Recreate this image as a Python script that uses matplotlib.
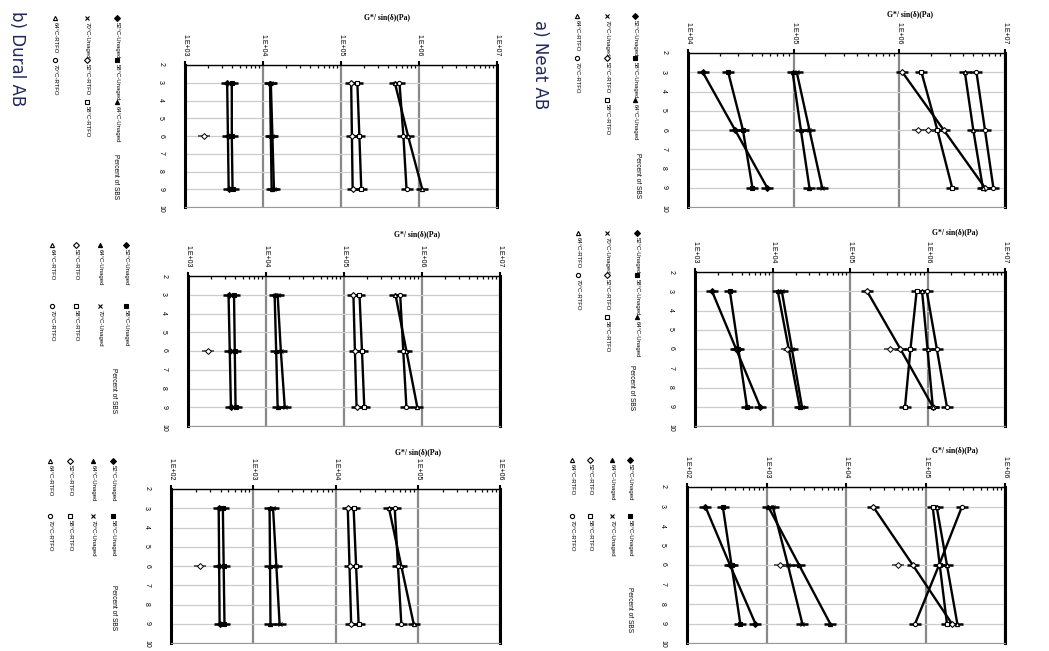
import matplotlib
matplotlib.use('Agg')
import matplotlib.pyplot as plt
import numpy as np
from matplotlib.lines import Line2D
from matplotlib.ticker import FuncFormatter, LogLocator, NullFormatter

plt.rcParams['font.family'] = ['Liberation Sans', 'DejaVu Sans']

# percent of SBS at which each binder was tested
percent = [3, 6, 9]

labels = ['52°C-Unaged', '58°C-Unaged', '64°C-Unaged', '70°C-Unaged',
          '52°C-RTFO', '58°C-RTFO', '64°C-RTFO', '70°C-RTFO']
markers = ['D', 's', '^', 'x', 'D', 's', '^', 'o']
filled = [True, True, True, True, False, False, False, False]

# G*/sin(delta) in Pa, one row per series (3 %, 6 %, 9 % SBS)
neat_1 = [[13800, 27900, 56200], [24000, 33100, 40700],
          [97700, 117000, 141000], [107000, 141000, 186000],
          [1.07e6, 2.63e6, 6.46e6], [1.62e6, 2.29e6, 3.16e6],
          [4.17e6, 5.01e6, 6.17e6], [5.37e6, 6.46e6, 7.76e6]]
neat_2 = [[1660, 3390, 6920], [2820, 3630, 4680],
          [11700, 16200, 22400], [13200, 17800, 24000],
          [166000, 447000, 1.17e6], [724000, 603000, 513000],
          [851000, 1.0e6, 1.17e6], [977000, 1.32e6, 1.78e6]]
neat_3 = [[170, 347, 724], [282, 363, 468],
          [1050, 2570, 6310], [1200, 1860, 2820],
          [21900, 69200, 214000], [123000, 151000, 186000],
          [138000, 186000, 251000], [288000, 148000, 74100]]
dural_1 = [[3470, 3550, 3630], [3980, 3980, 4070],
           [12300, 12600, 12900], [12600, 13200, 13800],
           [135000, 138000, 141000], [162000, 172000, 182000],
           [490000, 724000, 1.10e6], [562000, 631000, 692000]]
dural_2 = [[3310, 3430, 3550], [3890, 3980, 4070],
           [12900, 13500, 14100], [14100, 15500, 17400],
           [132000, 138000, 145000], [158000, 170000, 182000],
           [457000, 631000, 871000], [525000, 575000, 631000]]
dural_3 = [[380, 385, 390], [427, 437, 447],
           [1580, 1600, 1620], [1740, 1910, 2090],
           [14100, 14800, 15500], [16600, 17800, 19100],
           [44700, 63100, 89100], [52500, 57500, 63100]]

# single repeat readings at 6 % SBS
neat_1_rep = [1.51e6, 1.86e6]
neat_2_rep = [15500, 331000]
neat_3_rep = [1480, 44700]
dural_1_rep = [1740]
dural_2_rep = [1780]
dural_3_rep = [224]

W, H = 1049, 651
fig = plt.figure(figsize=(W / 100, H / 100), dpi=100)


def fx(x):
    return x / W


def fy(y):
    return 1 - y / H


def panel(box, lo, hi, series, rep, glab, plab, cols, counts, ly0, lstep):
    x0, y0, x1, y1 = box
    ax = fig.add_axes([fx(x0), fy(y1), (x1 - x0) / W, (y1 - y0) / H])
    ax.set_xscale('log')
    ax.set_xlim(10.0 ** lo, 10.0 ** hi)
    ax.set_ylim(10, 2)
    ax.set_yticks(range(2, 11))
    ax.set_xticks([10.0 ** k for k in range(lo, hi + 1)])
    ax.xaxis.set_major_formatter(FuncFormatter(lambda v, p: '1.E+%02d' % round(np.log10(v))))
    ax.xaxis.set_minor_locator(LogLocator(base=10, subs=np.arange(2, 10)))
    ax.xaxis.set_minor_formatter(NullFormatter())
    ax.xaxis.tick_top()
    ax.tick_params(axis='x', which='major', labelsize=5, labelrotation=-90,
                   length=3, width=1.5, pad=3)
    ax.tick_params(axis='x', which='minor', length=2.5, width=0.9, direction='in')
    ax.tick_params(axis='y', labelsize=5, labelrotation=-90, length=0, pad=15)
    ax.grid(axis='x', which='major', color='#888888', lw=1.6)
    ax.grid(axis='y', color='#cccccc', lw=0.9)
    ax.set_axisbelow(True)
    for s in ['left', 'right']:
        ax.spines[s].set_linewidth(2.2)
    ax.spines['top'].set_linewidth(1.0)
    ax.spines['bottom'].set_color('#999999')
    ax.spines['bottom'].set_linewidth(0.8)

    for vals, m, f in zip(series, markers, filled):
        ax.plot(vals, percent, color='k', lw=1.7, zorder=3)
        ax.plot(vals, percent, ls='none', marker='_', ms=8, mew=1.8, color='k', zorder=4)
        ax.plot(vals, percent, ls='none', marker=m, ms=3, mec='k',
                mfc='k' if f else 'white', mew=0.8, zorder=5)
    ax.plot(rep, [6] * len(rep), ls='none', marker='_', ms=8, mew=1.2, color='#444444', zorder=4)
    ax.plot(rep, [6] * len(rep), ls='none', marker='D', ms=3, mfc='white', mec='k',
            mew=0.7, zorder=5)

    fig.text(fx(glab[0]), fy(glab[1]), 'G*/ sin(δ)(Pa)', ha='center', va='center',
             fontsize=5.5, fontweight='bold', family=['Liberation Serif', 'DejaVu Serif'])
    fig.text(fx(plab[0]), fy(plab[1]), 'Percent of SBS', ha='center', va='center',
             rotation=-90, fontsize=4.8)

    i = 0
    for cx, n in zip(cols, counts):
        for k in range(n):
            y = ly0 + k * lstep
            fig.add_artist(Line2D([fx(cx)], [fy(y + 3)], marker=markers[i], ms=3,
                                  mec='k', mfc='k' if filled[i] else 'white', mew=0.8,
                                  transform=fig.transFigure))
            fig.text(fx(cx), fy(y + 7), labels[i], rotation=-90, ha='center', va='top',
                     fontsize=4.3)
            i += 1
    return ax


# a) neat binder column (right)
panel((688, 53, 1005, 207), 4, 7, neat_1, neat_1_rep, (910, 14), (637, 176),
      [635, 607, 577], [3, 3, 2], 13, 42)
panel((695, 272, 1005, 426), 3, 7, neat_2, neat_2_rep, (955, 232), (632, 388),
      [637, 607, 578], [3, 3, 2], 230, 42)
panel((687, 487, 1005, 643), 2, 6, neat_3, neat_3_rep, (955, 450), (630, 610),
      [630, 612, 590, 572], [2, 2, 2, 2], 457, 56)

# b) dural binder column (left)
panel((185, 65, 497, 207), 3, 7, dural_1, dural_1_rep, (387, 17), (115, 177),
      [117, 87, 55], [3, 3, 2], 15, 42)
panel((188, 276, 500, 426), 3, 7, dural_2, dural_2_rep, (417, 234), (113, 391),
      [126, 100, 76, 52], [2, 2, 2, 2], 242, 61)
panel((171, 489, 500, 643), 2, 6, dural_3, dural_3_rep, (418, 452), (113, 608),
      [113, 93, 70, 50], [2, 2, 2, 2], 458, 55)

narrow = ['Liberation Sans Narrow', 'DejaVu Sans']
fig.text(fx(540), fy(65), 'a) Neat AB', rotation=-90, ha='center', va='center',
         fontsize=12, family=narrow, color='#1f2a5a')
fig.text(fx(17), fy(59), 'b) Dural AB', rotation=-90, ha='center', va='center',
         fontsize=12, family=narrow, color='#1f2a5a')

fig.savefig('out.png', dpi=100)
